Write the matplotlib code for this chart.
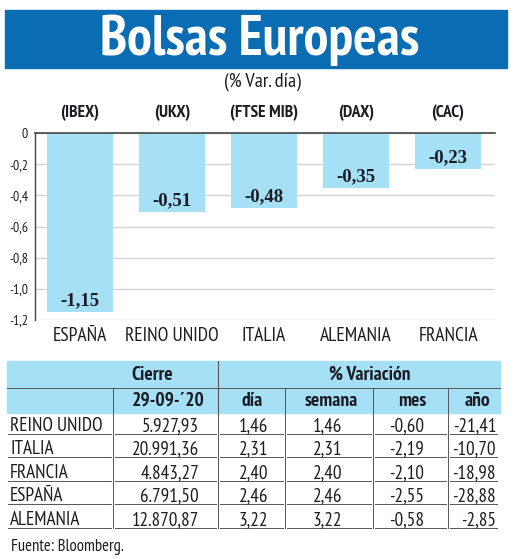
import matplotlib
matplotlib.use('Agg')
import matplotlib.pyplot as plt
import matplotlib.transforms as mtrans
from matplotlib.patches import Rectangle

# chart data
paises = ['ESPAÑA', 'REINO UNIDO', 'ITALIA', 'ALEMANIA', 'FRANCIA']
indices = ['(IBEX)', '(UKX)', '(FTSE MIB)', '(DAX)', '(CAC)']
var_dia = [-1.15, -0.51, -0.48, -0.35, -0.23]
yticks = [0, -0.2, -0.4, -0.6, -0.8, -1.0, -1.2]

# table data
tabla_paises = ['REINO UNIDO', 'ITALIA', 'FRANCIA', 'ESPAÑA', 'ALEMANIA']
cierre = ['5.927,93', '20.991,36', '4.843,27', '6.791,50', '12.870,87']
t_dia = ['1,46', '2,31', '2,40', '2,46', '3,22']
t_semana = ['1,46', '2,31', '2,40', '2,46', '3,22']
t_mes = ['-0,60', '-2,19', '-2,10', '-2,55', '-0,58']
t_anio = ['-21,41', '-10,70', '-18,98', '-28,88', '-2,85']

AZUL = '#0a6cb3'
CELESTE = '#a6e0f6'
TXT = '#1c1c24'
LINEA = '#555555'
NARROW = ['PT Sans Narrow', 'DejaVu Sans']

W, H = 520, 559
fig = plt.figure(figsize=(W / 100, H / 100), dpi=100)

# full-figure canvas in pixel coords
bg = fig.add_axes([0, 0, 1, 1])
bg.set_xlim(0, W)
bg.set_ylim(H, 0)
bg.axis('off')

bg.add_patch(Rectangle((5, 10), 502, 58, color=AZUL))
bg.text(260, 40, 'Bolsas Europeas', color='white', fontsize=40, fontweight='bold',
        family=NARROW, ha='center', va='center')
bg.text(262, 82, '(% Var. día)', color=TXT, fontsize=14.5, family=NARROW,
        ha='center', va='center')

# bar chart
ax = fig.add_axes([35 / W, 1 - 320 / H, 460 / W, 187 / H])
x = list(range(len(paises)))
bars = ax.bar(x, var_dia, width=0.71, color=CELESTE, zorder=2)
ax.set_xlim(-0.49, 4.51)
ax.set_ylim(-1.2, 0)
ax.set_yticks(yticks)
ax.set_yticklabels(['0' if v == 0 else f'{v:.1f}'.replace('.', ',') for v in yticks],
                   family=NARROW, fontsize=10, color=TXT)
ax.set_xticks(x)
ax.set_xticklabels(paises, family=NARROW, fontsize=14, color=TXT)
ax.tick_params(axis='x', length=0, pad=5)
ax.tick_params(axis='y', length=0, pad=5)
ax.grid(axis='y', color='#d4d4d4', lw=1, zorder=1)
for s in ['right', 'bottom']:
    ax.spines[s].set_visible(False)
ax.spines['top'].set_color('#444444')
ax.spines['top'].set_linewidth(1.2)
ax.spines['left'].set_color('#444444')
ax.spines['left'].set_linewidth(1.0)

for b, v in zip(bars, var_dia):
    ax.annotate(f'{v:.2f}'.replace('.', ','), (b.get_x() + b.get_width() / 2, v),
                xytext=(0, 2), textcoords='offset points', ha='center', va='bottom',
                family='Liberation Serif', fontweight='bold', fontsize=13.5, color=TXT)

trans = mtrans.blended_transform_factory(ax.transData, ax.transAxes)
for xi, lab in zip(x, indices):
    ax.text(xi, 1.105, lab, transform=trans, ha='center', va='center',
            fontsize=12.5, fontweight='bold', family=NARROW, color=TXT)

# table
left, right = 7, 500
bg.add_patch(Rectangle((left, 361), right - left, 52, color=CELESTE, zorder=1))
bg.plot([left, right], [388, 388], color=LINEA, lw=0.7, zorder=2)
bg.plot([218, 218], [361, 413], color=LINEA, lw=0.8, zorder=2)
for xs in [113, 285, 373, 448]:
    bg.plot([xs, xs], [388, 413], color=LINEA, lw=0.7, zorder=2)
for xs in [113, 218, 285, 373, 448]:
    bg.plot([xs, xs], [413, 528], color=LINEA, lw=0.7, zorder=2)

hfont = dict(family=NARROW, fontsize=14, fontweight='bold', color=TXT, va='center', ha='center')
bg.text(152, 375, 'Cierre', **hfont)
bg.text(370, 375, '% Variación', **hfont)
for xc, lab in zip([168, 252, 331, 412, 477], ['29-09-´20', 'día', 'semana', 'mes', 'año']):
    bg.text(xc, 401, lab, **hfont)

rows_y = [426, 449, 473, 496, 520]
cols = [cierre, t_dia, t_semana, t_mes, t_anio]
col_right = [199, 268, 342, 424, 496]
seg_edges = [(8, 111), (115, 216), (220, 283), (287, 371), (375, 446), (450, 497)]
for i, y in enumerate(rows_y):
    bg.text(10, y, tabla_paises[i], family=NARROW, fontsize=13.8, color=TXT,
            ha='left', va='center')
    for c, xr in zip(cols, col_right):
        bg.text(xr, y, c[i], family=NARROW, fontsize=13.8, color=TXT,
                ha='right', va='center')
    for a, b in seg_edges:
        bg.plot([a, b], [y + 8, y + 8], color=LINEA, lw=0.7)

bg.text(11, 547, 'Fuente: Bloomberg.', family=NARROW, fontsize=12, color=TXT,
        ha='left', va='center')

fig.savefig('out.png', dpi=100)
